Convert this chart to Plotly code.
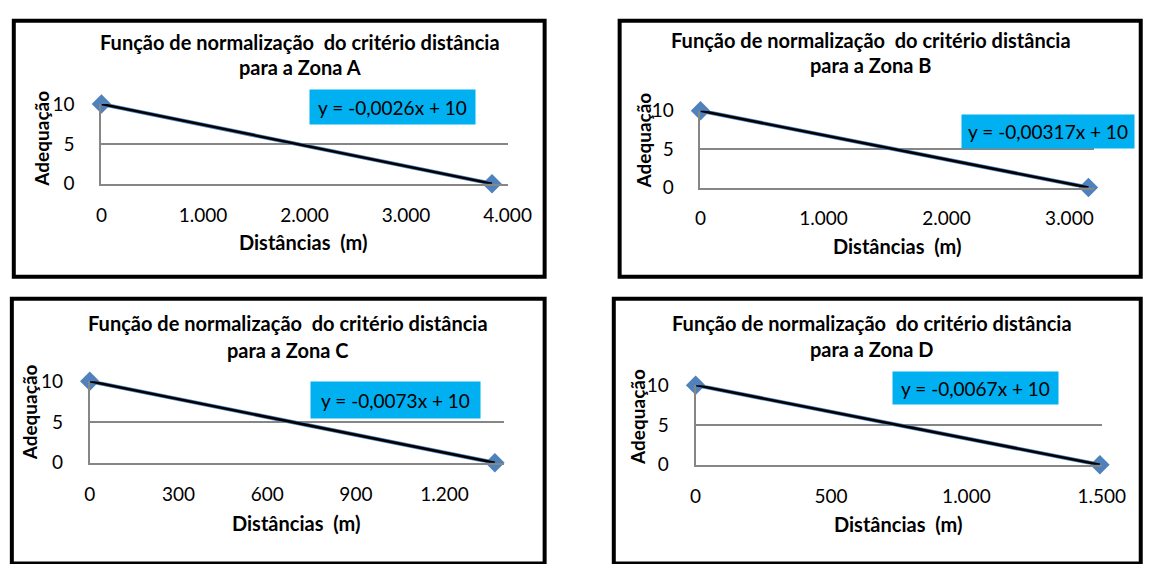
import plotly.graph_objects as go

W, H = 1155, 564

# ---------------- data ----------------
zone_names = ["A", "B", "C", "D"]
adequacy = [10, 0]
dist_a = [0, 3846]
dist_b = [0, 3155]
dist_c = [0, 1370]
dist_d = [0, 1493]
equations = ["y = -0,0026x + 10", "y = -0,00317x + 10", "y = -0,0073x + 10", "y = -0,0067x + 10"]
xtick_a = [0, 1000, 2000, 3000, 4000]
xtick_b = [0, 1000, 2000, 3000]
xtick_c = [0, 300, 600, 900, 1200]
xtick_d = [0, 500, 1000, 1500]
xlabel_a = ["0", "1.000", "2.000", "3.000", "4.000"]
xlabel_b = ["0", "1.000", "2.000", "3.000"]
xlabel_c = ["0", "300", "600", "900", "1.200"]
xlabel_d = ["0", "500", "1.000", "1.500"]
xmax_list = [4000, 3200, 1400, 1500]
ytick = [0, 5, 10]
title_line1 = "Função de normalização\u00a0 do critério distância"
x_title = "Distâncias\u00a0 (m)"
y_title = "Adequação"

dists = [dist_a, dist_b, dist_c, dist_d]
xticks = [xtick_a, xtick_b, xtick_c, xtick_d]
xlabels = [xlabel_a, xlabel_b, xlabel_c, xlabel_d]

# ---------------- layout geometry (pixels) ----------------
areas = [(98, 515, 96, 179), (713, 1117, 103, 183), (86, 511, 385, 470), (708, 1125, 389, 472)]
borders = [(8, 553, 9, 276), (630, 1165, 9, 276), (6, 553, 299, 575), (624, 1165, 299, 575)]
title_pos = [(302, 31, 57), (888, 29, 55), (290, 324, 352), (889, 324, 351)]
eq_box = [(314, 479, 82, 116), (984, 1156, 108, 141), (315, 484, 387, 423), (913, 1078, 376, 408)]
xt_pos = [(305, 240), (915, 244), (298, 533), (916, 534)]
yt_pos = [(37, 132), (655, 134), (25, 417), (649, 422)]

FONT = "Lato"
BLUE = "#4F81BD"
GRAY = "#868686"

def px(x):
    return x / W

def py(y):
    return 1 - y / H

fig = go.Figure()
shapes = []
annotations = []
layout_axes = {}

for i in range(4):
    n = "" if i == 0 else str(i + 1)
    xl, xr, yt, yb = areas[i]
    # data series (line + diamond markers)
    fig.add_trace(go.Scatter(
        x=dists[i], y=adequacy, mode="lines+markers",
        line=dict(color=BLUE, width=4),
        marker=dict(symbol="diamond", size=15, color=BLUE),
        xaxis="x" + n, yaxis="y" + n, cliponaxis=False, showlegend=False,
    ))
    # linear trendline
    fig.add_trace(go.Scatter(
        x=dists[i], y=adequacy, mode="lines",
        line=dict(color="black", width=2.5),
        xaxis="x" + n, yaxis="y" + n, cliponaxis=False, showlegend=False,
    ))
    layout_axes["xaxis" + n] = dict(
        domain=[px(xl), px(xr)], range=[0, xmax_list[i]], anchor="y" + n,
        tickvals=xticks[i], ticktext=xlabels[i], showgrid=False, zeroline=False,
        showline=True, linecolor=GRAY, linewidth=2, ticks="",
        ticklabelstandoff=13, tickfont=dict(family=FONT, size=19, color="black"),
        fixedrange=True,
    )
    layout_axes["yaxis" + n] = dict(
        domain=[py(yb), py(yt)], range=[0, 10], anchor="x" + n,
        tickvals=ytick, showgrid=True, gridcolor=GRAY, gridwidth=1.5, zeroline=False,
        showline=True, linecolor=GRAY, linewidth=2, ticks="",
        ticklabelstandoff=21, tickfont=dict(family=FONT, size=19, color="black"),
        fixedrange=True,
    )
    bx0, bx1, by0, by1 = borders[i]
    shapes.append(dict(type="rect", xref="paper", yref="paper",
                       x0=px(bx0), x1=px(bx1), y0=py(by1), y1=py(by0),
                       line=dict(color="black", width=4), fillcolor="rgba(0,0,0,0)"))
    tx, ty1, ty2 = title_pos[i]
    annotations.append(dict(text="<b>" + title_line1 + "</b>", x=px(tx), y=py(ty1),
                            xref="paper", yref="paper", showarrow=False,
                            xanchor="center", yanchor="middle",
                            font=dict(family=FONT, size=20, color="black")))
    annotations.append(dict(text="<b>para a Zona " + zone_names[i] + "</b>", x=px(tx), y=py(ty2),
                            xref="paper", yref="paper", showarrow=False,
                            xanchor="center", yanchor="middle",
                            font=dict(family=FONT, size=20, color="black")))
    ex0, ex1, ey0, ey1 = eq_box[i]
    annotations.append(dict(text=equations[i], x=px((ex0 + ex1) / 2), y=py((ey0 + ey1) / 2),
                            xref="paper", yref="paper", showarrow=False,
                            xanchor="center", yanchor="middle",
                            width=ex1 - ex0, height=ey1 - ey0, borderpad=0,
                            bgcolor="#00B0F0", align="center",
                            font=dict(family=FONT, size=19, color="black")))
    ax, ay = xt_pos[i]
    annotations.append(dict(text="<b>" + x_title + "</b>", x=px(ax), y=py(ay),
                            xref="paper", yref="paper", showarrow=False,
                            xanchor="center", yanchor="middle",
                            font=dict(family=FONT, size=20, color="black")))
    ax, ay = yt_pos[i]
    annotations.append(dict(text="<b>" + y_title + "</b>", x=px(ax), y=py(ay),
                            xref="paper", yref="paper", showarrow=False, textangle=-90,
                            xanchor="center", yanchor="middle",
                            font=dict(family=FONT, size=19, color="black")))

fig.update_layout(
    width=W, height=H, autosize=False,
    margin=dict(l=0, r=0, t=0, b=0),
    paper_bgcolor="white", plot_bgcolor="white",
    shapes=shapes, annotations=annotations,
    font=dict(family=FONT, color="black"),
    **layout_axes,
)

fig.write_html("out.html", config={"displayModeBar": False},
               post_script="document.body.style.margin='0';document.body.style.overflow='hidden';")
